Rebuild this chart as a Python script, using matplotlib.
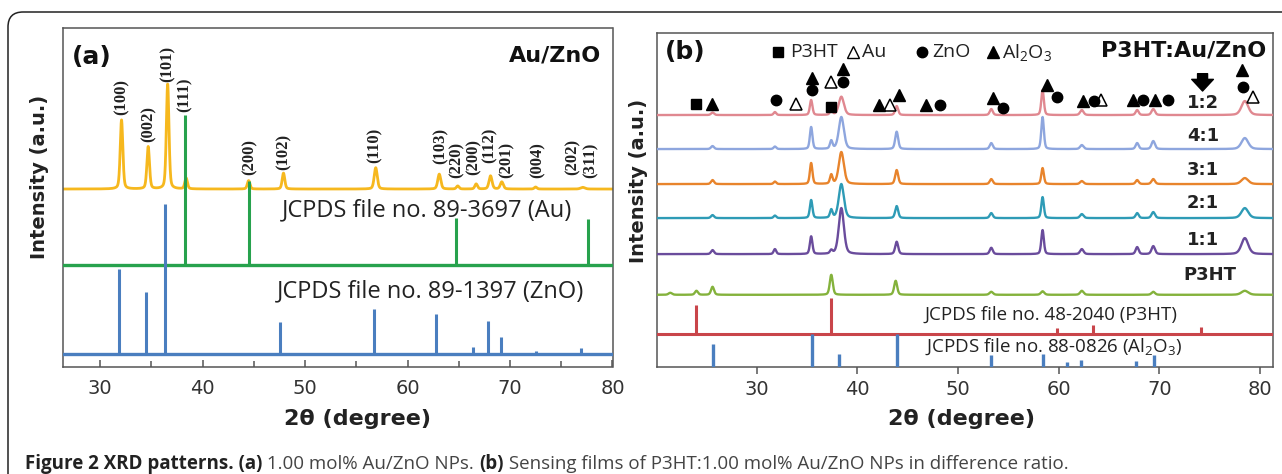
import matplotlib as mpl
mpl.use('Agg')
import matplotlib.pyplot as plt
import numpy as np
from matplotlib.patches import FancyBboxPatch
from matplotlib.transforms import IdentityTransform

plt.rcParams['font.family'] = 'DejaVu Sans'
plt.rcParams['mathtext.fontset'] = 'custom'
plt.rcParams['mathtext.rm'] = 'Open Sans'
plt.rcParams['mathtext.it'] = 'Open Sans'

# ---------------- panel (a) data: 1.00 mol% Au/ZnO ----------------
auzno_pos = [32.1, 34.7, 36.6, 38.4, 44.5, 47.9, 56.9, 63.1, 64.9, 66.7, 68.1, 69.2, 72.5, 77.1]
auzno_int = [20.4, 12.5, 31.0, 3.2, 2.5, 4.7, 6.3, 4.4, 0.9, 1.5, 3.9, 2.1, 0.6, 0.5]
auzno_fwhm = [0.3, 0.3, 0.3, 0.3, 0.3, 0.3, 0.35, 0.35, 0.3, 0.3, 0.35, 0.35, 0.3, 0.5]
auzno_base = 52.5

hkl_text = ['(100)', '(002)', '(101)', '(111)', '(200)', '(102)', '(110)', '(103)',
            '(220)', '(200)', '(112)', '(201)', '(004)', '(202)', '(311)']
hkl_x = [32.1, 34.7, 36.6, 38.3, 44.6, 47.9, 56.8, 63.2, 64.8, 66.5, 68.0, 69.7, 72.7, 76.1, 77.9]
hkl_y = [74.4, 66.5, 84.2, 75.4, 56.6, 58.1, 60.1, 59.8, 55.7, 56.6, 60.1, 55.7, 55.7, 56.6, 55.7]

au_ref_pos = [38.3, 44.5, 64.7, 77.6]
au_ref_int = [44.2, 24.7, 13.7, 13.4]
au_ref_base = 30.2

zno_ref_pos = [31.9, 34.5, 36.3, 47.6, 56.7, 62.8, 66.4, 67.9, 69.1, 72.5, 76.9]
zno_ref_int = [25.0, 18.4, 44.3, 9.5, 13.2, 11.7, 2.2, 9.8, 5.1, 0.9, 1.9]
zno_ref_base = 3.75

# ---------------- panel (b) data: P3HT:Au/ZnO films ----------------
film_pos = [25.6, 31.8, 35.4, 37.4, 38.4, 43.9, 53.3, 58.4, 62.3, 67.8, 69.4, 78.5]
film_fwhm = [0.35, 0.3, 0.3, 0.3, 0.6, 0.35, 0.35, 0.3, 0.4, 0.35, 0.4, 0.8]
ratios = ['1:2', '4:1', '3:1', '2:1', '1:1']
ratio_int = {
    '1:2': [0.75, 0.9, 4.5, 1.5, 5.5, 2.7, 1.8, 7.5, 1.5, 1.5, 1.8, 4.2],
    '4:1': [0.9, 0.75, 6.6, 2.4, 9.6, 5.2, 1.8, 9.6, 1.2, 1.8, 2.4, 3.3],
    '3:1': [1.2, 0.75, 6.3, 2.7, 9.6, 4.2, 1.5, 4.8, 0.9, 1.2, 1.5, 1.8],
    '2:1': [0.9, 0.75, 5.4, 2.4, 10.2, 3.6, 1.5, 6.3, 1.2, 1.5, 1.8, 3.0],
    '1:1': [1.2, 1.5, 5.3, 1.0, 13.8, 3.7, 1.9, 7.2, 1.5, 2.1, 2.4, 4.8],
}
ratio_base = {'1:2': 75.4, '4:1': 65.2, '3:1': 54.7, '2:1': 44.5, '1:1': 33.7}
ratio_color = {'1:2': '#e08890', '4:1': '#8ea6de', '3:1': '#e8842c',
               '2:1': '#2e9bb6', '1:1': '#6a4c9c'}
ratio_label_y = {'1:2': 79.0, '4:1': 69.0, '3:1': 59.0, '2:1': 49.0, '1:1': 37.9}

p3ht_pos = [21.4, 24.0, 25.6, 37.4, 43.8, 53.3, 58.4, 62.3, 69.4, 78.5]
p3ht_int = [0.6, 1.2, 2.4, 6.0, 4.2, 0.9, 1.05, 1.2, 0.9, 1.2]
p3ht_fwhm = [0.4, 0.35, 0.35, 0.35, 0.35, 0.4, 0.4, 0.4, 0.4, 0.8]
p3ht_base = 21.5

p3ht_ref_pos = [24.0, 37.4, 59.8, 63.4, 74.1]
p3ht_ref_int = [8.7, 10.8, 1.8, 2.7, 2.3]
p3ht_ref_base = 9.66

al2o3_ref_pos = [25.6, 35.5, 38.2, 43.9, 53.3, 58.4, 60.8, 62.2, 67.7, 69.5]
al2o3_ref_int = [6.7, 9.6, 3.7, 9.6, 3.5, 3.7, 1.2, 1.9, 1.6, 3.4]

# phase markers above the 1:2 pattern
sq_x = [24.0, 37.4]
sq_y = [78.7, 77.9]
au_x = [33.9, 37.4, 43.2, 64.2, 79.3]
au_y = [78.7, 85.4, 78.4, 80.0, 80.9]
zno_x = [31.9, 35.5, 38.6, 48.2, 54.5, 59.8, 63.5, 68.4, 70.9, 78.3]
zno_y = [79.9, 82.9, 85.4, 78.4, 77.6, 80.9, 79.5, 79.9, 79.9, 83.7]
al_x = [25.5, 35.5, 38.6, 42.1, 44.1, 46.8, 53.5, 58.8, 62.4, 67.4, 69.6, 78.2]
al_y = [78.7, 86.4, 89.1, 78.4, 81.4, 78.4, 80.4, 84.3, 79.5, 79.9, 79.9, 88.9]


def pattern(x, pos, amp, fwhm, eta=0.35):
    y = np.zeros_like(x)
    for p, a, w in zip(pos, amp, fwhm):
        d = (x - p) / w
        y += a * (eta / (1 + 4 * d ** 2) + (1 - eta) * np.exp(-4 * np.log(2) * d ** 2))
    return y


W, H = 1282, 474
fig = plt.figure(figsize=(W / 100, H / 100), dpi=100)
fig.patch.set_facecolor('white')

def px_axes(l, t, r, b):
    return fig.add_axes([l / W, 1 - b / H, (r - l) / W, (b - t) / H])

ax_a = px_axes(62.7, 28.3, 612.5, 366.7)
ax_b = px_axes(656.7, 33.0, 1273.0, 366.5)

for ax in (ax_a, ax_b):
    for s in ax.spines.values():
        s.set_color('#555555')
        s.set_linewidth(1.1)
    ax.set_yticks([])
    ax.set_ylim(0, 100)

# ---------------- panel (a) ----------------
xa = np.linspace(26.36, 80, 4000)
ax_a.plot(xa, auzno_base + pattern(xa, auzno_pos, auzno_int, auzno_fwhm),
          color='#f6b81e', lw=2.0, zorder=2)
ax_a.axhline(au_ref_base, color='#27a24d', lw=2.4, zorder=3)
ax_a.vlines(au_ref_pos, au_ref_base, np.add(au_ref_base, au_ref_int),
            color='#27a24d', lw=2.2, zorder=3)
ax_a.axhline(zno_ref_base, color='#4a7ebf', lw=2.4, zorder=4)
ax_a.vlines(zno_ref_pos, zno_ref_base, np.add(zno_ref_base, zno_ref_int),
            color='#4a7ebf', lw=2.2, zorder=4)

for t, x, y in zip(hkl_text, hkl_x, hkl_y):
    ax_a.text(x, y, t, rotation=90, ha='center', va='bottom', fontsize=12,
              family='Liberation Serif', weight='bold', color='#222222')

ax_a.text(61.95, 46.3, 'JCPDS file no. 89-3697 (Au)', ha='center', va='center',
          fontsize=17, family='Open Sans', color='#222222')
ax_a.text(62.2, 22.2, 'JCPDS file no. 89-1397 (ZnO)', ha='center', va='center',
          fontsize=17, family='Open Sans', color='#222222')
ax_a.text(0.017, 0.915, '(a)', transform=ax_a.transAxes, ha='left', va='center',
          fontsize=18, weight='bold', color='#111111')
ax_a.text(0.980, 0.921, 'Au/ZnO', transform=ax_a.transAxes, ha='right', va='center',
          fontsize=16, weight='bold', color='#111111')

ax_a.set_xlim(26.36, 80)
ax_a.set_xticks(range(30, 81, 10))
ax_a.set_xticks(range(35, 80, 10), minor=True)
ax_a.tick_params(axis='x', which='both', direction='in', width=1.1, color='#555555',
                 labelsize=14, labelcolor='#333333', pad=9)
ax_a.tick_params(axis='x', which='major', length=5)
ax_a.tick_params(axis='x', which='minor', length=4)

# ---------------- panel (b) ----------------
xb = np.linspace(20.05, 81.3, 4000)
ax_b.axhline(p3ht_ref_base, color='#c9454a', lw=2.2, zorder=3)
ax_b.vlines(p3ht_ref_pos, p3ht_ref_base, np.add(p3ht_ref_base, p3ht_ref_int),
            color='#c9454a', lw=2.2, zorder=3)
ax_b.vlines(al2o3_ref_pos, 0, al2o3_ref_int, color='#4a7ebf', lw=2.4, zorder=3)

ax_b.plot(xb, p3ht_base + pattern(xb, p3ht_pos, p3ht_int, p3ht_fwhm),
          color='#84b23c', lw=1.7, zorder=4)
for r in reversed(ratios):
    ax_b.plot(xb, ratio_base[r] + pattern(xb, film_pos, ratio_int[r], film_fwhm),
              color=ratio_color[r], lw=1.7, zorder=4)
    ax_b.text(74.35, ratio_label_y[r], r, ha='center', va='center', fontsize=13,
              weight='bold', color='#222222')
ax_b.text(75.0, 27.3, 'P3HT', ha='center', va='center', fontsize=13,
          weight='bold', color='#222222')

ax_b.plot(sq_x, sq_y, 's', color='black', ms=6.5, zorder=6)
ax_b.plot(au_x, au_y, '^', mfc='white', mec='black', mew=1.1, ms=9, zorder=6)
ax_b.plot(zno_x, zno_y, 'o', color='black', ms=7.5, zorder=6)
ax_b.plot(al_x, al_y, '^', color='black', ms=8.5, zorder=6)
ax_b.annotate('', xy=(74.3, 82.6), xytext=(74.3, 87.8),
              arrowprops=dict(arrowstyle='simple,head_width=1.3,head_length=0.7,tail_width=0.6',
                              color='black', mutation_scale=12, shrinkA=0, shrinkB=0))

# legend row
leg_y = 94.3
leg_font = dict(va='center', fontsize=14, family='Open Sans', color='#222222')
ax_b.plot([32.15], [leg_y], 's', color='black', ms=6.5)
ax_b.text(33.3, leg_y, 'P3HT', **leg_font)
ax_b.plot([39.6], [leg_y], '^', mfc='white', mec='black', mew=1.0, ms=9)
ax_b.text(40.5, leg_y, 'Au', **leg_font)
ax_b.plot([46.4], [leg_y], 'o', color='black', ms=7.5)
ax_b.text(47.4, leg_y, 'ZnO', **leg_font)
ax_b.plot([53.5], [leg_y], '^', color='black', ms=8.5)
ax_b.text(54.4, leg_y, r'Al$_2$O$_3$', **leg_font)

ax_b.text(0.0135, 0.943, '(b)', transform=ax_b.transAxes, ha='left', va='center',
          fontsize=18, weight='bold', color='#111111')
ax_b.text(0.9895, 0.948, 'P3HT:Au/ZnO', transform=ax_b.transAxes, ha='right', va='center',
          fontsize=16, weight='bold', color='#111111')

ax_b.text(46.7, 15.4, 'JCPDS file no. 48-2040 (P3HT)', ha='left', va='center',
          fontsize=13.5, family='Open Sans', color='#222222')
ax_b.text(46.7, 5.9, r'JCPDS file no. 88-0826 (Al$_2$O$_3$)', ha='left', va='center',
          fontsize=13.5, family='Open Sans', color='#222222')

ax_b.set_xlim(20.05, 81.3)
ax_b.set_xticks(range(30, 81, 10))
ax_b.tick_params(axis='x', direction='out', length=5, width=1.1, color='#555555',
                 labelsize=14, labelcolor='#333333', pad=5)

# ---------------- axis titles (pixel placed) ----------------
def ftext(x, y, s, **kw):
    return fig.text(x / W, 1 - y / H, s, **kw)

ftext(40, 177, 'Intensity (a.u.)', rotation=90, ha='center', va='center',
      fontsize=14, weight='bold', color='#222222')
ftext(638.3, 180.5, 'Intensity (a.u.)', rotation=90, ha='center', va='center',
      fontsize=14, weight='bold', color='#222222')
ftext(357, 419, '2θ (degree)', ha='center', va='center', fontsize=16,
      weight='bold', color='#222222')
ftext(961, 419, '2θ (degree)', ha='center', va='center', fontsize=16,
      weight='bold', color='#222222')

# ---------------- outer frame and caption ----------------
frame = FancyBboxPatch((8, -40), 1400, H - 12 + 40,
                       boxstyle='round,pad=0,rounding_size=15',
                       transform=IdentityTransform(), fill=False,
                       ec='#222222', lw=1.1)
fig.add_artist(frame)

caption = [('Figure 2 XRD patterns. (a)', 'bold', '#222222'),
           (' 1.00 mol% Au/ZnO NPs. ', 'normal', '#444444'),
           ('(b)', 'bold', '#222222'),
           (' Sensing films of P3HT:1.00 mol% Au/ZnO NPs in difference ratio.', 'normal', '#444444')]
renderer = fig.canvas.get_renderer()
cx = 25
for s, wgt, col in caption:
    t = fig.text(cx, H - 464, s, transform=IdentityTransform(), ha='left', va='center',
                 fontsize=13.5, family='Open Sans', weight=wgt, color=col)
    cx += t.get_window_extent(renderer).width

fig.savefig('out.png', dpi=100)
